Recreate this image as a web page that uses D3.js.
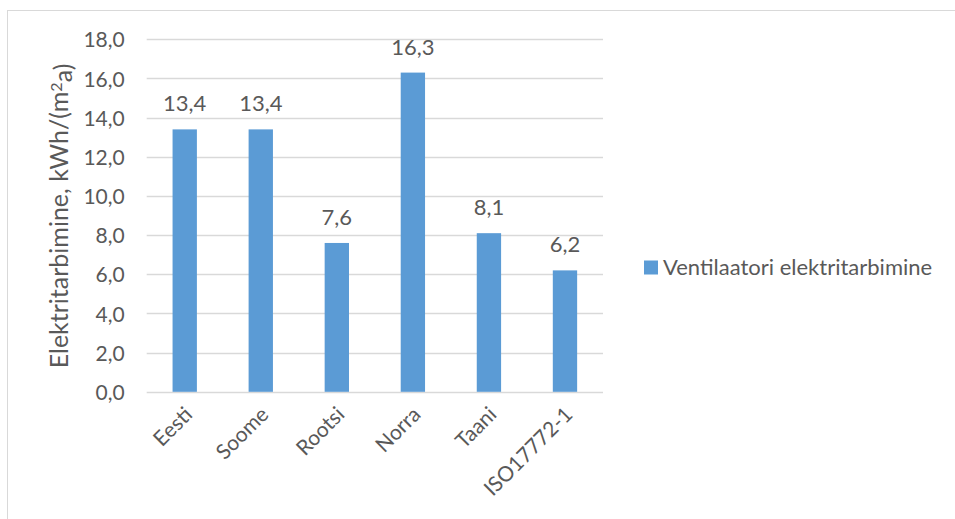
<!DOCTYPE html>
<html>
<head>
<meta charset="utf-8">
<script src="https://cdn.jsdelivr.net/npm/d3@7"></script>
<style>
  html, body { margin: 0; padding: 0; background: #fff; }
  svg { display: block; }
  text { font-family: Lato, "Open Sans", sans-serif; fill: #595959; }
</style>
</head>
<body>
<svg id="chart" width="955" height="519"></svg>
<script>
// Ventilation fan electricity use by country
const categories = ["Eesti", "Soome", "Rootsi", "Norra", "Taani", "ISO17772-1"];
const values = [13.4, 13.4, 7.6, 16.3, 8.1, 6.2];
const yTicks = [0, 2, 4, 6, 8, 10, 12, 14, 16, 18];
const seriesName = "Ventilaatori elektritarbimine";

const fmt = v => d3.format(".1f")(v).replace(".", ",");

const svg = d3.select("#chart");
const W = 955, H = 519;

// outer chart frame
svg.append("rect")
  .attr("x", 7.5).attr("y", 10.5)
  .attr("width", W + 10).attr("height", H + 10)
  .attr("fill", "#fff").attr("stroke", "#d9d9d9").attr("stroke-width", 1);

const plot = { left: 146.7, right: 603, top: 39.3, bottom: 391.8 };

const x = d3.scaleBand()
  .domain(categories)
  .range([plot.left, plot.right])
  .paddingInner(0.68).paddingOuter(0.34);

const y = d3.scaleLinear().domain([0, 18]).range([plot.bottom, plot.top]);

// horizontal gridlines
svg.append("g")
  .selectAll("line")
  .data(yTicks)
  .join("line")
  .attr("x1", plot.left).attr("x2", plot.right)
  .attr("y1", d => Math.round(y(d)) + 0.5).attr("y2", d => Math.round(y(d)) + 0.5)
  .attr("stroke", "#d9d9d9").attr("stroke-width", 1.3);

// y-axis tick labels
const yAxis = d3.axisLeft(y).tickValues(yTicks).tickFormat(fmt).tickSize(0).tickPadding(0);
const gy = svg.append("g").attr("transform", `translate(${plot.left - 22},0)`).call(yAxis);
gy.select(".domain").remove();
gy.selectAll("text")
  .attr("font-family", "Lato, sans-serif")
  .attr("font-size", 21).attr("fill", "#595959").attr("dy", "0.36em");

// bars
svg.append("g")
  .selectAll("rect")
  .data(values)
  .join("rect")
  .attr("x", (d, i) => x(categories[i]))
  .attr("width", x.bandwidth())
  .attr("y", d => y(d))
  .attr("height", d => y(0) - y(d))
  .attr("fill", "#5b9bd5");

// value labels
svg.append("g")
  .selectAll("text")
  .data(values)
  .join("text")
  .attr("x", (d, i) => x(categories[i]) + x.bandwidth() / 2)
  .attr("y", d => y(d) - 18)
  .attr("text-anchor", "middle")
  .attr("font-size", 22)
  .text(fmt);

// x-axis category labels, rotated
const xAxis = d3.axisBottom(x).tickSize(0).tickPadding(0);
const gx = svg.append("g").attr("transform", `translate(0,${plot.bottom})`).call(xAxis);
gx.select(".domain").remove();
gx.selectAll("text")
  .attr("font-family", "Lato, sans-serif")
  .attr("font-size", 21).attr("fill", "#595959")
  .attr("text-anchor", "end")
  .attr("dy", null)
  .attr("transform", "translate(9,24) rotate(-45)");

// y-axis title
const yTitle = svg.append("text")
  .attr("transform", `translate(68,216) rotate(-90)`)
  .attr("text-anchor", "middle")
  .attr("font-size", 25);
yTitle.append("tspan").text("Elektritarbimine, kWh/(m");
yTitle.append("tspan").attr("dy", "-0.4em").attr("font-size", 16).text("2");
yTitle.append("tspan").attr("dy", "0.4em").text("a)");

// legend
const legend = svg.append("g").attr("transform", "translate(644,267.5)");
legend.append("rect").attr("x", 0).attr("y", -7).attr("width", 14).attr("height", 14).attr("fill", "#5b9bd5");
legend.append("text").attr("x", 19).attr("y", 0).attr("dy", "0.36em").attr("font-size", 22).text(seriesName);
</script>
</body>
</html>
